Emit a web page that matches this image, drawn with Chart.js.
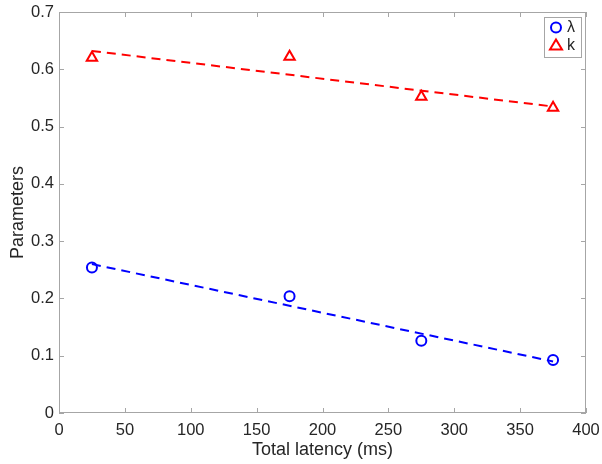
<!DOCTYPE html>
<html>
<head>
<meta charset="utf-8">
<script src="https://cdn.jsdelivr.net/npm/chart.js@4.4.1/dist/chart.umd.min.js"></script>
<style>
  html, body { margin: 0; padding: 0; background: #fff; }
  #wrap { width: 602px; height: 464px; }
</style>
</head>
<body>
<div id="wrap"><canvas id="chart" width="602" height="464"></canvas></div>
<script>
// latency values (ms)
const latency = [25, 175, 275, 375];
// measured parameters
const lambdaVals = [0.254, 0.204, 0.126, 0.0925];
const kVals = [0.62, 0.622, 0.552, 0.533];
// fitted dashed lines (endpoints)
const fitX = [25, 375];
const lambdaFit = [0.26, 0.09];
const kFit = [0.632, 0.535];
// axis ticks
const xTicks = [0, 50, 100, 150, 200, 250, 300, 350, 400];
const yTicks = [0, 0.1, 0.2, 0.3, 0.4, 0.5, 0.6, 0.7];

const axisGrey = "#a6a6a6";
const textCol = "#262626";
const fontFam = "'Liberation Sans', Arial, sans-serif";

const toPts = (xs, ys) => xs.map((x, i) => ({ x: x, y: ys[i] }));

// MATLAB-style box with inward ticks
const boxTicks = {
  id: "boxTicks",
  afterDatasetsDraw(chart) {
    const { ctx, chartArea: a, scales } = chart;
    ctx.save();
    ctx.strokeStyle = axisGrey;
    ctx.lineWidth = 1;
    ctx.strokeRect(a.left + 0.5, a.top + 0.5, a.right - a.left - 1, a.bottom - a.top - 1);
    ctx.beginPath();
    xTicks.forEach((v) => {
      const px = Math.round(scales.x.getPixelForValue(v)) + 0.5;
      ctx.moveTo(px, a.bottom); ctx.lineTo(px, a.bottom - 5);
      ctx.moveTo(px, a.top); ctx.lineTo(px, a.top + 5);
    });
    yTicks.forEach((v) => {
      const py = Math.round(scales.y.getPixelForValue(v)) + 0.5;
      ctx.moveTo(a.left, py); ctx.lineTo(a.left + 5, py);
      ctx.moveTo(a.right, py); ctx.lineTo(a.right - 5, py);
    });
    ctx.stroke();
    ctx.restore();
  }
};

// small legend box in top-right corner
const cornerLegend = {
  id: "cornerLegend",
  afterDraw(chart) {
    const { ctx, chartArea: a } = chart;
    const bx = a.right - 42, by = a.top + 5, bw = 37, bh = 40;
    ctx.save();
    ctx.fillStyle = "#fff";
    ctx.fillRect(bx, by, bw, bh);
    ctx.strokeStyle = axisGrey;
    ctx.lineWidth = 1;
    ctx.strokeRect(bx + 0.5, by + 0.5, bw, bh);
    // circle
    ctx.strokeStyle = "#0000ff";
    ctx.lineWidth = 2;
    ctx.beginPath();
    ctx.arc(bx + 12, by + 10.5, 5, 0, Math.PI * 2);
    ctx.stroke();
    // triangle
    ctx.strokeStyle = "#ff0000";
    ctx.beginPath();
    ctx.moveTo(bx + 12, by + 22.5);
    ctx.lineTo(bx + 18, by + 32.5);
    ctx.lineTo(bx + 6, by + 32.5);
    ctx.closePath();
    ctx.stroke();
    ctx.fillStyle = textCol;
    ctx.font = "16px " + fontFam;
    ctx.textBaseline = "middle";
    ctx.fillText("λ", bx + 23, by + 11);
    ctx.fillText("k", bx + 23, by + 29);
    ctx.restore();
  }
};

new Chart(document.getElementById("chart"), {
  type: "scatter",
  data: {
    datasets: [
      {
        label: "λ fit",
        data: toPts(fitX, lambdaFit),
        showLine: true,
        borderColor: "#0000ff",
        borderWidth: 2,
        borderDash: [9, 6],
        pointRadius: 0,
        fill: false
      },
      {
        label: "k fit",
        data: toPts(fitX, kFit),
        showLine: true,
        borderColor: "#ff0000",
        borderWidth: 2,
        borderDash: [9, 6],
        pointRadius: 0,
        fill: false
      },
      {
        label: "λ",
        data: toPts(latency, lambdaVals),
        pointStyle: "circle",
        pointRadius: 5,
        pointBorderWidth: 2,
        borderColor: "#0000ff",
        backgroundColor: "rgba(0,0,0,0)"
      },
      {
        label: "k",
        data: toPts(latency, kVals),
        pointStyle: "triangle",
        pointRadius: 6,
        pointBorderWidth: 2,
        borderColor: "#ff0000",
        backgroundColor: "rgba(0,0,0,0)"
      }
    ]
  },
  options: {
    responsive: false,
    animation: false,
    clip: false,
    layout: { padding: { top: 12, right: 16, left: 0, bottom: 0 } },
    plugins: {
      legend: { display: false },
      tooltip: { enabled: false }
    },
    scales: {
      x: {
        type: "linear",
        min: 0,
        max: 400,
        afterBuildTicks: (s) => { s.ticks = xTicks.map((v) => ({ value: v })); },
        afterFit: (s) => { s.height = 51; s.paddingLeft = 0; s.paddingRight = 0; },
        grid: { display: false, drawTicks: false },
        border: { display: false },
        ticks: {
          color: textCol,
          padding: 8,
          font: { family: fontFam, size: 16.5 },
          maxRotation: 0
        },
        title: {
          display: true,
          text: "Total latency (ms)",
          color: textCol,
          font: { family: fontFam, size: 18 },
          padding: { top: 0, bottom: 3 }
        }
      },
      y: {
        type: "linear",
        min: 0,
        max: 0.7,
        afterBuildTicks: (s) => { s.ticks = yTicks.map((v) => ({ value: v })); },
        afterFit: (s) => { s.width = 59; s.paddingTop = 0; s.paddingBottom = 0; },
        grid: { display: false, drawTicks: false },
        border: { display: false },
        ticks: {
          color: textCol,
          padding: 5,
          font: { family: fontFam, size: 16.5 },
          callback: (v) => (v === 0 ? "0" : String(+v.toFixed(1)))
        },
        title: {
          display: true,
          text: "Parameters",
          color: textCol,
          font: { family: fontFam, size: 18 },
          padding: { top: 7, bottom: 0 }
        }
      }
    }
  },
  plugins: [boxTicks, cornerLegend]
});
</script>
</body>
</html>
